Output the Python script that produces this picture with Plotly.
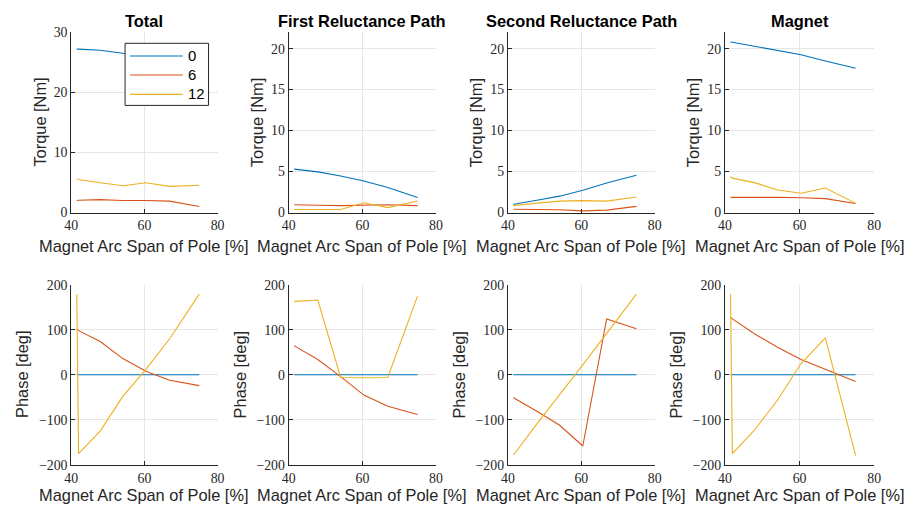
import plotly.graph_objects as go
from plotly.subplots import make_subplots

# Magnet arc span of pole [%]
span = [41.5, 42.0, 47.9, 54.1, 60.4, 66.9, 75.0]
harmonics = ["0", "6", "12"]
colors = ["#0072BD", "#D95319", "#EDB120"]

# Torque components [Nm] per harmonic order (0, 6, 12)
total_torque = [
    [27.2, 27.2, 27.0, 26.5, 25.8, 25.0, 23.9],
    [2.0, 2.05, 2.15, 2.0, 2.0, 1.9, 1.0],
    [5.6, 5.5, 4.95, 4.45, 4.95, 4.35, 4.55],
]
first_rel_torque = [
    [5.3, 5.28, 4.96, 4.47, 3.86, 3.05, 1.83],
    [0.95, 0.95, 0.9, 0.85, 0.9, 0.95, 0.85],
    [0.37, 0.37, 0.37, 0.37, 1.2, 0.6, 1.42],
]
second_rel_torque = [
    [1.0, 1.05, 1.5, 2.0, 2.72, 3.6, 4.55],
    [0.4, 0.4, 0.4, 0.35, 0.2, 0.3, 0.75],
    [0.85, 0.88, 1.15, 1.4, 1.45, 1.4, 1.9],
]
magnet_torque = [
    [20.8, 20.78, 20.3, 19.8, 19.25, 18.5, 17.6],
    [1.85, 1.85, 1.9, 1.85, 1.8, 1.7, 1.1],
    [4.4, 4.2, 3.65, 2.75, 2.35, 3.0, 1.15],
]

# Phase [deg] per harmonic order (0, 6, 12)
total_phase = [
    [0, 0, 0, 0, 0, 0, 0],
    [102, 98, 74, 36, 8, -12, -24],
    [179, -175, -125, -48, 12, 80, 179],
]
first_rel_phase = [
    [0, 0, 0, 0, 0, 0, 0],
    [65, 62, 34, -4, -45, -70, -88],
    [163, 163, 166, -6, -6.5, -6, 175],
]
second_rel_phase = [
    [0, 0, 0, 0, 0, 0, 0],
    [-50, -53, -81, -112, -158, 124, 102],
    [-178, -173, -109, -45, 22, 92, 179],
]
magnet_phase = [
    [0, 0, 0, 0, 0, 0, 0],
    [127, 124, 91, 61, 34, 12, -15],
    [179, -175, -123, -56, 25, 82, -179],
]

titles = ["Total", "First Reluctance Path", "Second Reluctance Path", "Magnet"]
torque_sets = [total_torque, first_rel_torque, second_rel_torque, magnet_torque]
phase_sets = [total_phase, first_rel_phase, second_rel_phase, magnet_phase]

x_label = "Magnet Arc Span of Pole [%]"
torque_label = "Torque [Nm]"
phase_label = "Phase [deg]"

# Page geometry: the figure sits inside the body's default 8px margin on a
# 926x526 page that ends up shown at 910x510.
BODY = 8
KX, KY = 910 / 926, 510 / 526
W, H = 918, 518
FS = 1.025  # font compensation for the page scaling

col_px = [(72, 218), (289, 436), (507.7, 654.3), (724.3, 873.3)]
row_px = [(33, 213), (285, 465)]

AX = "#262626"
GRID = "#e6e6e6"
SANS = "Liberation Sans, Arial, sans-serif"
SERIF = "Liberation Serif, DejaVu Serif, serif"


def px_x(p):
    return (p / KX - BODY) / W


def px_y(p):
    return 1 - (p / KY - BODY) / H


def tick_text(vals):
    return [str(v).replace("-", "\u2212") for v in vals]


fig = make_subplots(rows=2, cols=4)

for c in range(4):
    for h in range(3):
        fig.add_trace(
            go.Scatter(
                x=span, y=torque_sets[c][h], mode="lines",
                line=dict(color=colors[h], width=1.1),
                name=harmonics[h], showlegend=False,
            ),
            row=1, col=c + 1,
        )
        fig.add_trace(
            go.Scatter(
                x=span, y=phase_sets[c][h], mode="lines",
                line=dict(color=colors[h], width=1.1),
                name=harmonics[h], showlegend=False,
            ),
            row=2, col=c + 1,
        )

axis_common = dict(
    showgrid=True, gridcolor=GRID, gridwidth=1,
    showline=True, linecolor=AX, linewidth=1,
    ticks="inside", ticklen=4, tickcolor=AX,
    zeroline=False,
    tickfont=dict(family=SERIF, size=13.5 * FS, color=AX),
)

annotations = []
shapes = []
for r in range(2):
    y0, y1 = row_px[r]
    for c in range(4):
        x0, x1 = col_px[c]
        idx = r * 4 + c + 1
        xa = "xaxis" if idx == 1 else f"xaxis{idx}"
        ya = "yaxis" if idx == 1 else f"yaxis{idx}"
        xt = [40, 60, 80]
        fig.layout[xa].update(
            domain=[px_x(x0), px_x(x1)], range=[40, 80],
            tickvals=xt, ticktext=tick_text(xt), **axis_common,
        )
        if r == 0:
            if c == 0:
                yr, yt = [0, 30], [0, 10, 20, 30]
            else:
                yr, yt = [0, 22], [0, 5, 10, 15, 20]
        else:
            yr, yt = [-200, 200], [-200, -100, 0, 100, 200]
        fig.layout[ya].update(
            domain=[px_y(y1), px_y(y0)], range=yr,
            tickvals=yt, ticktext=tick_text(yt), **axis_common,
        )

        # x-axis label
        annotations.append(dict(
            text=x_label, xref="paper", yref="paper",
            x=px_x((x0 + x1) / 2), y=px_y(246 if r == 0 else 495),
            xanchor="center", yanchor="middle", showarrow=False,
            font=dict(family=SANS, size=16 * FS, color=AX),
        ))
        # y-axis label
        off = 31 if r == 0 else 49
        annotations.append(dict(
            text=torque_label if r == 0 else phase_label,
            xref="paper", yref="paper",
            x=px_x(x0 - off), y=px_y((y0 + y1) / 2),
            xanchor="center", yanchor="middle", textangle=-90,
            showarrow=False,
            font=dict(family=SANS, size=16 * FS, color=AX),
        ))
        if r == 0:
            annotations.append(dict(
                text=f"<b>{titles[c]}</b>", xref="paper", yref="paper",
                x=px_x((x0 + x1) / 2), y=px_y(22),
                xanchor="center", yanchor="middle", showarrow=False,
                font=dict(family=SANS, size=16 * FS, color="#000000"),
            ))

# Legend box for the harmonic orders, drawn inside the "Total" panel
box_l, box_r, box_t, box_b = 125.7, 209, 44, 106
shapes.append(dict(
    type="rect", xref="paper", yref="paper", layer="above",
    x0=px_x(box_l), x1=px_x(box_r), y0=px_y(box_b), y1=px_y(box_t),
    fillcolor="white", line=dict(color=AX, width=1),
))
entry_y = [56.7, 75.7, 95]
for h in range(3):
    shapes.append(dict(
        type="line", xref="paper", yref="paper", layer="above",
        x0=px_x(130.7), x1=px_x(183.3),
        y0=px_y(entry_y[h]), y1=px_y(entry_y[h]),
        line=dict(color=colors[h], width=1.1),
    ))
    annotations.append(dict(
        text=harmonics[h], xref="paper", yref="paper",
        x=px_x(186.5), y=px_y(entry_y[h]),
        xanchor="left", yanchor="middle", showarrow=False,
        font=dict(family=SANS, size=14.5 * FS, color="#000000"),
    ))

fig.update_layout(
    width=W, height=H,
    margin=dict(l=0, r=0, t=0, b=0),
    paper_bgcolor="white", plot_bgcolor="white",
    annotations=annotations,
    shapes=shapes,
    showlegend=False,
)

fig.write_html("out.html")
